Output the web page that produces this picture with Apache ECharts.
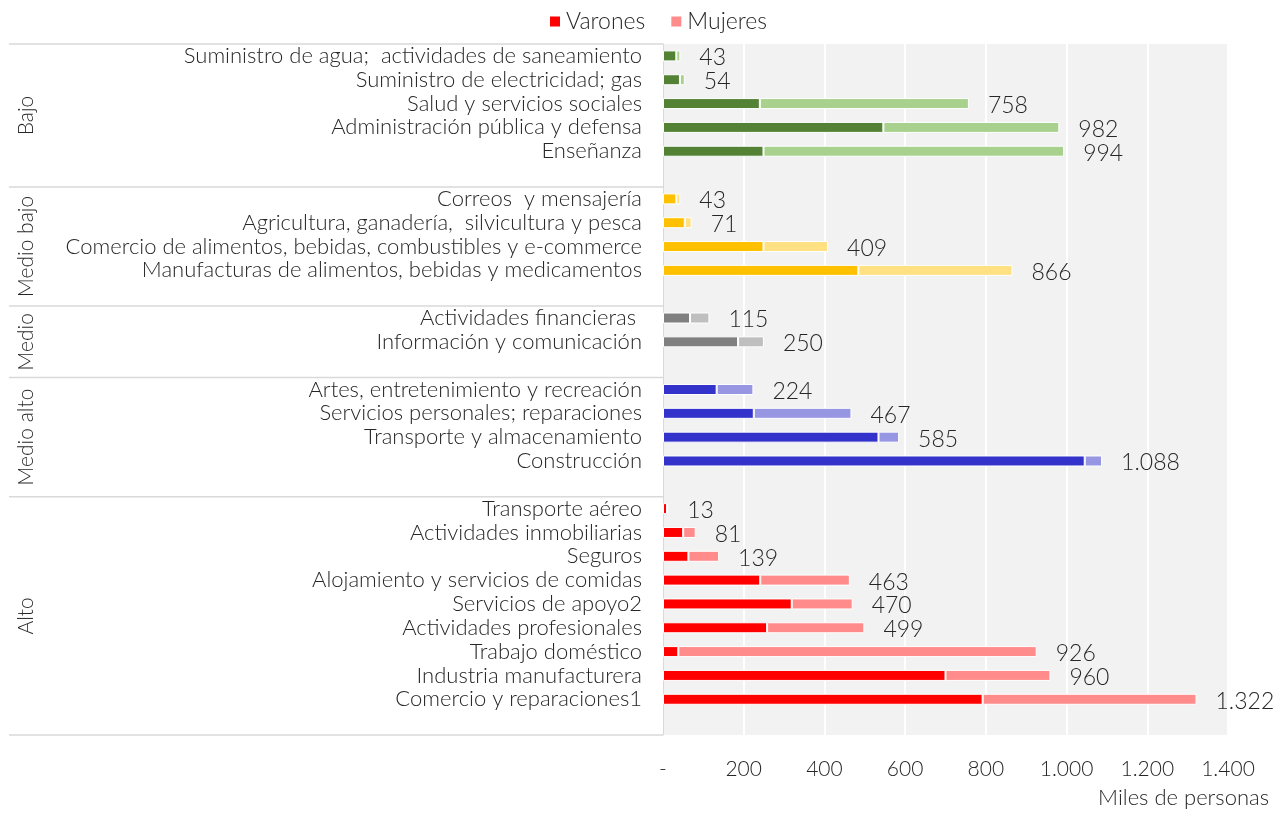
<!DOCTYPE html>
<html>
<head>
<meta charset="utf-8">
<script src="https://cdn.jsdelivr.net/npm/echarts@6/dist/echarts.min.js"></script>
<style>
  html, body { margin: 0; padding: 0; background: #fff; }
  #chart { width: 1276px; height: 815px; }
</style>
</head>
<body>
<div id="chart"></div>
<script>
// niveles y cantidad de ramas en cada uno (de arriba hacia abajo)
const groups = ['Bajo', 'Medio bajo', 'Medio', 'Medio alto', 'Alto'];
const groupSizes = [5, 4, 2, 4, 9];

const sectors = [
  'Suministro de agua;  actividades de saneamiento',
  'Suministro de electricidad; gas',
  'Salud y servicios sociales',
  'Administración pública y defensa',
  'Enseñanza',
  'Correos  y mensajería',
  'Agricultura, ganadería,  silvicultura y pesca',
  'Comercio de alimentos, bebidas, combustibles y e-commerce',
  'Manufacturas de alimentos, bebidas y medicamentos',
  'Actividades financieras ',
  'Información y comunicación',
  'Artes, entretenimiento y recreación',
  'Servicios personales; reparaciones',
  'Transporte y almacenamiento',
  'Construcción',
  'Transporte aéreo',
  'Actividades inmobiliarias',
  'Seguros',
  'Alojamiento y servicios de comidas',
  'Servicios de apoyo2',
  'Actividades profesionales',
  'Trabajo doméstico',
  'Industria manufacturera',
  'Comercio y reparaciones1'
];

// miles de personas
const varones = [33, 42, 240, 546, 249, 33, 54, 249, 484, 67, 186, 133, 225, 534, 1045, 10, 50, 63, 241, 319, 258, 38, 700, 792];
const mujeres = [10, 12, 518, 436, 745, 10, 17, 160, 382, 48, 64, 91, 242, 51, 43, 3, 31, 76, 222, 151, 241, 888, 260, 530];
const totales = [43, 54, 758, 982, 994, 43, 71, 409, 866, 115, 250, 224, 467, 585, 1088, 13, 81, 139, 463, 470, 499, 926, 960, 1322];

const xTicks = [0, 200, 400, 600, 800, 1000, 1200, 1400];

const darkColors = ['#548235', '#FFC000', '#808080', '#3333CC', '#FF0000'];
const lightColors = ['#A9D18E', '#FFE082', '#BFBFBF', '#9696E3', '#FF8B8B'];

const FONT = 'Lato';

// formato con punto de miles
function fmt(v) {
  if (v === 0) return '-';
  return String(v).replace(/\B(?=(\d{3})+(?!\d))/g, '.');
}

// armar las categorías con un renglón vacío al final de cada grupo
const categories = [];
const vData = [];
const mData = [];
const labels = [];
let k = 0;
groups.forEach((g, gi) => {
  for (let i = 0; i < groupSizes[gi]; i++) {
    categories.push(sectors[k]);
    vData.push({ value: varones[k], itemStyle: { color: darkColors[gi] } });
    mData.push({ value: mujeres[k], itemStyle: { color: lightColors[gi] } });
    labels.push(totales[k]);
    k++;
  }
  categories.push('__gap' + gi);
  vData.push('-');
  mData.push('-');
  labels.push(null);
});

const myChart = echarts.init(document.getElementById('chart'));

const option = {
  animation: false,
  textStyle: { fontFamily: FONT },
  legend: {
    top: 5,
    left: 543,
    icon: 'rect',
    itemWidth: 12,
    itemHeight: 12,
    itemGap: 24,
    textStyle: { fontSize: 23, fontWeight: 300, color: '#262626', fontFamily: FONT },
    data: ['Varones', 'Mujeres']
  },
  title: {
    text: 'Miles de personas',
    right: 2,
    bottom: 1,
    textStyle: { fontSize: 22, fontWeight: 300, color: '#262626', fontFamily: FONT }
  },
  grid: {
    left: 663,
    right: 48,
    top: 44,
    bottom: 80,
    show: true,
    backgroundColor: '#F2F2F2',
    borderWidth: 0
  },
  xAxis: {
    type: 'value',
    min: xTicks[0],
    max: xTicks[xTicks.length - 1],
    interval: 200,
    axisLine: { show: false },
    axisTick: { show: false },
    splitLine: { lineStyle: { color: '#FFFFFF', width: 2 } },
    axisLabel: {
      margin: 24,
      fontSize: 21,
      fontWeight: 300,
      color: '#262626',
      fontFamily: FONT,
      formatter: fmt
    }
  },
  yAxis: {
    type: 'category',
    inverse: true,
    data: categories,
    axisLine: { show: true, lineStyle: { color: '#D9D9D9' } },
    axisTick: { show: false },
    splitLine: { show: false },
    axisLabel: {
      interval: 0,
      margin: 21,
      fontSize: 22,
      fontWeight: 300,
      color: '#262626',
      fontFamily: FONT,
      formatter: (v) => (v.indexOf('__gap') === 0 ? '' : v)
    }
  },
  series: [
    {
      name: 'Varones',
      type: 'bar',
      stack: 'total',
      barWidth: 11,
      itemStyle: { color: '#FF0000', borderColor: '#FFFFFF', borderWidth: 1 },
      data: vData
    },
    {
      name: 'Mujeres',
      type: 'bar',
      stack: 'total',
      barWidth: 11,
      itemStyle: { color: '#FF8B8B', borderColor: '#FFFFFF', borderWidth: 1 },
      label: {
        show: true,
        position: 'right',
        distance: 19,
        offset: [0, 2],
        fontSize: 23,
        fontWeight: 300,
        color: '#262626',
        fontFamily: FONT,
        formatter: (p) => (labels[p.dataIndex] == null ? '' : fmt(labels[p.dataIndex]))
      },
      data: mData
    }
  ]
};

myChart.setOption(option);

// separadores y nombres de grupo en el panel izquierdo, ubicados con la escala del eje
const x0 = myChart.convertToPixel({ xAxisIndex: 0 }, 0);
const c0 = myChart.convertToPixel({ yAxisIndex: 0 }, categories[0]);
const c1 = myChart.convertToPixel({ yAxisIndex: 0 }, categories[1]);
const step = c1 - c0;
const graphics = [];
let idx = 0;
const topY = c0 - step / 2;
graphics.push({
  type: 'line',
  shape: { x1: 9, y1: topY, x2: x0, y2: topY },
  style: { stroke: '#D9D9D9', lineWidth: 1.5 }
});
groups.forEach((g, gi) => {
  const startY = myChart.convertToPixel({ yAxisIndex: 0 }, categories[idx]) - step / 2;
  idx += groupSizes[gi] + 1;
  const endY = myChart.convertToPixel({ yAxisIndex: 0 }, categories[idx - 1]) + step / 2;
  graphics.push({
    type: 'line',
    shape: { x1: 9, y1: endY, x2: x0, y2: endY },
    style: { stroke: '#D9D9D9', lineWidth: 1.5 }
  });
  graphics.push({
    type: 'text',
    x: 26,
    y: (startY + endY) / 2,
    rotation: Math.PI / 2,
    style: {
      text: g,
      fontSize: 21,
      fontWeight: 300,
      fontFamily: FONT,
      fill: '#262626',
      align: 'center',
      verticalAlign: 'middle'
    }
  });
});
myChart.setOption({ graphic: graphics });
</script>
</body>
</html>
